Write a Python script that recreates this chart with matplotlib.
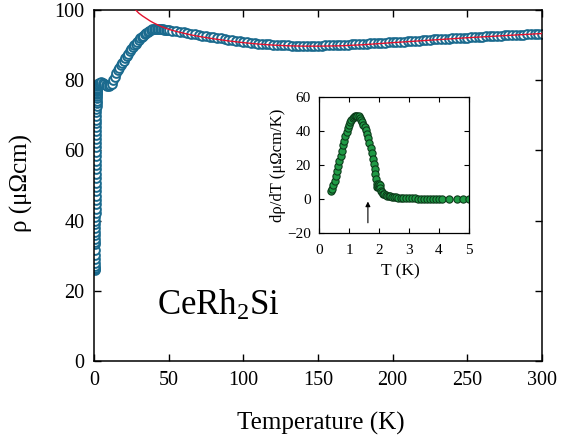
import matplotlib
matplotlib.use("Agg")
import matplotlib.pyplot as plt

plt.rcParams['font.family'] = ['Liberation Serif', 'DejaVu Serif']
plt.rcParams['mathtext.fontset'] = 'custom'
plt.rcParams['mathtext.rm'] = 'Liberation Serif'
plt.rcParams['mathtext.it'] = 'Liberation Serif:italic'

# ---- main resistivity data ----
T_low = [0.40, 0.45, 0.50, 0.55, 0.60, 0.65, 0.70, 0.75,
         0.800, 0.825, 0.850, 0.875, 0.900, 0.925, 0.950, 0.975,
         1.000, 1.025, 1.050, 1.075, 1.100, 1.125, 1.150, 1.175,
         1.200, 1.225, 1.250, 1.275, 1.300, 1.325, 1.350, 1.375,
         1.400, 1.425, 1.450, 1.475, 1.500, 1.525, 1.550, 1.575,
         1.600, 1.625, 1.650, 1.675, 1.700, 1.725, 1.750, 1.775,
         1.800, 1.825, 1.850, 1.875, 1.900, 1.95, 2.00, 2.2, 2.5, 3.0,
         3.5, 4.0, 5.0, 6.0, 7.0, 8.0, 9.0]
rho_low = [25.8, 26.1, 26.6, 27.2, 28.0, 29.0, 30.2, 31.6,
           33.2, 34.0, 34.9, 35.8, 36.8, 37.8, 38.9, 40.0,
           41.1, 42.2, 43.4, 44.6, 45.8, 47.0, 48.3, 49.5,
           50.8, 52.1, 53.4, 54.6, 55.9, 57.1, 58.4, 59.6,
           60.9, 62.1, 63.3, 64.5, 65.6, 66.7, 67.8, 68.8,
           69.8, 70.8, 71.7, 72.6, 73.4, 74.1, 74.8, 75.4,
           76.0, 76.4, 76.8, 77.0, 77.2, 77.5, 77.8, 78.3, 78.7, 79.0,
           79.2, 79.3, 79.4, 79.3, 79.0, 78.7, 78.4]

T_mid = [10, 11, 12, 13, 14, 15, 16, 17, 18, 19, 20, 21, 22, 23, 24, 25, 26, 27,
         28, 29, 30, 31, 32, 33, 34, 35, 36, 37, 38, 39, 40, 41, 42, 43, 44, 45,
         46, 47, 48, 49]
rho_mid = [78.3, 78.5, 79.0, 80.0, 81.0, 82.0, 82.8, 83.5, 84.2, 84.9, 85.6, 86.3,
           87.0, 87.6, 88.2, 88.8, 89.4, 89.9, 90.4, 90.9, 91.4, 91.9, 92.3, 92.7,
           93.1, 93.5, 93.8, 94.1, 94.3, 94.5, 94.6, 94.7, 94.7, 94.7, 94.6, 94.6,
           94.5, 94.4, 94.3, 94.3]

T_high = [50, 52.5, 55, 57.5, 60, 62.5, 65, 67.5, 70, 72.5, 75, 77.5, 80, 82.5,
          85, 87.5, 90, 92.5, 95, 97.5, 100, 102.5, 105, 107.5, 110, 112.5, 115,
          117.5, 120, 122.5, 125, 127.5, 130, 132.5, 135, 137.5, 140, 142.5, 145,
          147.5, 150, 152.5, 155, 157.5, 160, 162.5, 165, 167.5, 170, 172.5, 175,
          177.5, 180, 182.5, 185, 187.5, 190, 192.5, 195, 197.5, 200, 202.5, 205,
          207.5, 210, 212.5, 215, 217.5, 220, 222.5, 225, 227.5, 230, 232.5, 235,
          237.5, 240, 242.5, 245, 247.5, 250, 252.5, 255, 257.5, 260, 262.5, 265,
          267.5, 270, 272.5, 275, 277.5, 280, 282.5, 285, 287.5, 290, 292.5, 295,
          297.5, 300]
rho_high = [94.2, 94.0, 93.9, 93.7, 93.6, 93.4, 93.2, 93.1, 92.9, 92.7, 92.6, 92.4,
            92.2, 92.0, 91.9, 91.7, 91.5, 91.4, 91.2, 91.1, 90.9, 90.8, 90.7, 90.5,
            90.4, 90.3, 90.2, 90.2, 90.1, 90.0, 90.0, 89.9, 89.9, 89.8, 89.8, 89.8,
            89.8, 89.8, 89.8, 89.8, 89.8, 89.8, 89.9, 89.9, 89.9, 90.0, 90.0, 90.1,
            90.1, 90.2, 90.2, 90.3, 90.3, 90.4, 90.5, 90.5, 90.6, 90.7, 90.7, 90.8,
            90.8, 90.9, 91.0, 91.0, 91.1, 91.2, 91.2, 91.3, 91.4, 91.4, 91.5, 91.6,
            91.6, 91.7, 91.8, 91.8, 91.9, 92.0, 92.0, 92.1, 92.1, 92.2, 92.3, 92.3,
            92.4, 92.5, 92.5, 92.6, 92.6, 92.7, 92.8, 92.8, 92.9, 92.9, 93.0, 93.0,
            93.1, 93.1, 93.2, 93.2, 93.3]

# ---- fit curve (red) ----
T_fit = [26, 27.5, 30, 32.5, 35, 37.5, 40, 42.5, 45, 47.5, 50, 55, 60, 65, 70,
         80, 90, 100, 110, 120, 130, 140, 150, 165, 180, 200, 225, 250, 275, 300]
rho_fit = [100.8, 100.2, 99.1, 98.3, 97.6, 96.9, 96.3, 95.8, 95.3, 94.9, 94.5,
           93.9, 93.4, 92.9, 92.5, 91.8, 91.2, 90.7, 90.3, 90.0, 89.8, 89.7, 89.7,
           89.8, 90.1, 90.7, 91.4, 92.1, 92.7, 93.3]

# ---- inset derivative data ----
T_d = [0.40, 0.44, 0.48, 0.52, 0.56, 0.60, 0.64, 0.68, 0.72, 0.76, 0.80, 0.84,
       0.88, 0.92, 0.96, 1.00, 1.04, 1.08, 1.12, 1.16, 1.20, 1.24, 1.28, 1.32,
       1.36, 1.40, 1.44, 1.48, 1.52, 1.56, 1.60, 1.64, 1.68, 1.72, 1.76, 1.80,
       1.83, 1.86, 1.88, 1.90, 1.92, 1.94, 1.96, 1.98, 2.00, 2.02, 2.04, 2.07,
       2.10, 2.14, 2.18, 2.22, 2.27, 2.32, 2.38, 2.44, 2.50, 2.57, 2.64, 2.72,
       2.80, 2.90, 3.00, 3.10, 3.20, 3.30, 3.40, 3.50, 3.60, 3.70, 3.80, 3.90,
       4.00, 4.10, 4.35, 4.60, 4.80, 5.00]
drho_d = [5.0, 6.0, 8.0, 10.5, 13.5, 16.5, 19.5, 22.5, 25.5, 28.5, 31.5, 34.3,
          37.0, 39.5, 41.8, 43.7, 45.3, 46.6, 47.6, 48.4, 48.9, 49.1, 49.0, 48.6,
          47.8, 46.7, 45.3, 43.8, 42.2, 40.3, 38.1, 35.7, 33.0, 30.1, 27.0, 23.6,
          20.8, 17.5, 14.6, 11.5, 8.8, 7.2, 7.0, 8.0, 8.6, 8.0, 6.5, 5.0,
          4.0, 3.2, 2.7, 2.3, 2.0, 1.7, 1.5, 1.3, 1.1, 1.0, 0.8, 0.7,
          0.6, 0.5, 0.4, 0.35, 0.3, 0.25, 0.2, 0.2, 0.15, 0.1, 0.1, 0.1,
          0.1, 0.05, 0.0, 0.0, 0.0, 0.0]

T_arrow = 1.63
arrow_from = -14
arrow_to = -1.5

main_xticks = [0, 50, 100, 150, 200, 250, 300]
main_yticks = [0, 20, 40, 60, 80, 100]
inset_xticks = [0, 1, 2, 3, 4, 5]
inset_yticks = [-20, 0, 20, 40, 60]

blue = '#1a6a8e'

fig = plt.figure(figsize=(5.7, 4.41), dpi=100)
ax = fig.add_axes([94/570, 1 - 361/441, 448/570, 351/441])

T_all = T_low + T_mid + T_high
rho_all = rho_low + rho_mid + rho_high
ax.plot(T_all, rho_all, 'o', ms=6.3, mfc='white', mec=blue, mew=1.4, zorder=2)
ax.plot(T_fit, rho_fit, '-', color='#e3122e', lw=1.0, zorder=3)

ax.set_xlim(0, 300)
ax.set_ylim(0, 100)
ax.set_xticks(main_xticks)
ax.set_yticks(main_yticks)
ax.tick_params(direction='in', length=5, width=1.0, labelsize=14.5, pad=7,
               top=True, right=True)
for s in ax.spines.values():
    s.set_linewidth(1.1)
ax.set_xlabel('Temperature (K)', fontsize=18)
ax.set_ylabel('ρ (μΩcm)', fontsize=18)
ax.xaxis.set_label_coords(0.506, -0.145)
ax.yaxis.set_label_coords(-0.136, 0.507)
ax.text(0.277, 0.157, r'CeRh$_\mathrm{2}$Si', transform=ax.transAxes,
        fontsize=25, ha='center', va='center')

# ---- inset ----
axi = fig.add_axes([319/570, 1 - 233/441, 150/570, 136/441])
axi.plot(T_d, drho_d, 'o', ms=5.2, mfc='#1f9a45', mec='#0c3b1a', mew=0.8)
axi.set_xlim(0, 5)
axi.set_ylim(-20, 60)
axi.set_xticks(inset_xticks)
axi.set_yticks(inset_yticks)
axi.tick_params(direction='in', length=3.5, width=0.8, labelsize=11, pad=6,
                top=True, right=True)
axi.tick_params(axis='x', pad=8)
for s in axi.spines.values():
    s.set_linewidth(0.9)
axi.set_xlabel('T (K)', fontsize=12.5)
axi.set_ylabel('dρ/dT (μΩcm/K)', fontsize=12)
axi.xaxis.set_label_coords(0.54, -0.22)
axi.yaxis.set_label_coords(-0.22, 0.5)
axi.annotate('', xy=(T_arrow, arrow_to), xytext=(T_arrow, arrow_from),
             arrowprops=dict(arrowstyle='-|>', color='black', lw=0.8,
                             mutation_scale=7, shrinkA=0, shrinkB=0))

fig.savefig('out.png', dpi=100)
